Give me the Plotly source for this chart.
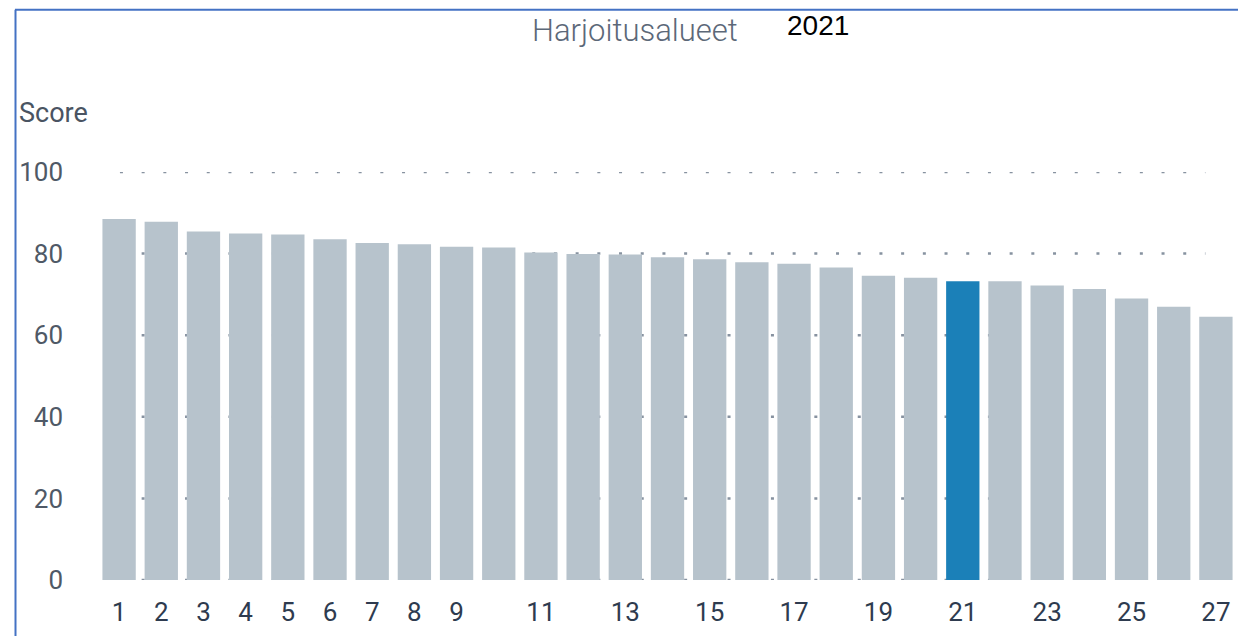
import plotly.graph_objects as go

# ---- data ----
areas = list(range(1, 28))
scores = [88.5, 87.8, 85.4, 84.9, 84.7, 83.5, 82.6, 82.3, 81.7, 81.5,
          80.3, 79.9, 79.8, 79.1, 78.6, 77.9, 77.5, 76.6, 74.6, 74.1,
          73.2, 73.2, 72.2, 71.3, 69.0, 67.0, 64.5]
highlight_area = 21
tick_vals = [1, 2, 3, 4, 5, 6, 7, 8, 9, 11, 13, 15, 17, 19, 21, 23, 25, 27]
tick_text = [str(v) for v in tick_vals]
y_ticks = [0, 20, 40, 60, 80, 100]
title_text = "Harjoitusalueet"
year_text = "2021"
y_label = "Score"

GRAY = "#b7c3cc"
BLUE = "#1b80b8"
colors = [BLUE if a == highlight_area else GRAY for a in areas]

OFF = 8  # page body margin
W, H = 1246 - OFF, 636 - OFF
# plot area in window pixels
WL, WR, WT, WB = 98, 1237, 172, 582
L, R, T, B = WL - OFF, WR - OFF, WT - OFF, WB - OFF


def px(x):  # window pixel -> paper
    return (x - OFF - L) / (R - L)


def py(y):
    return (B - (y - OFF)) / (B - T)


fig = go.Figure()
fig.add_trace(go.Bar(
    x=areas, y=scores, marker=dict(color=colors, line=dict(width=0)),
    hoverinfo="x+y", showlegend=False,
))

# dotted gridlines (drawn below bars)
for v in y_ticks:
    fig.add_shape(type="line", xref="x", yref="y", x0=1.02, x1=26.75, y0=v, y1=v,
                  line=dict(color="#8792a0", width=2.5, dash="3px,18.7px"),
                  layer="below")

# frame lines (top and left)
fig.add_shape(type="line", xref="paper", yref="paper",
              x0=px(15), x1=px(1250), y0=py(9), y1=py(9),
              line=dict(color="#4472c4", width=2))
fig.add_shape(type="line", xref="paper", yref="paper",
              x0=px(15.5), x1=px(15.5), y0=py(9), y1=py(640),
              line=dict(color="#4472c4", width=2))

fig.add_annotation(text=title_text, xref="paper", yref="paper",
                   x=px(635), y=py(30), xanchor="center", yanchor="middle",
                   showarrow=False,
                   font=dict(family="Roboto", size=31, color="#5c6878", weight=300))
fig.add_annotation(text=year_text, xref="paper", yref="paper",
                   x=px(817.5), y=py(24.5), xanchor="center", yanchor="middle",
                   showarrow=False,
                   font=dict(family="Liberation Sans", size=28, color="#000000"))
fig.add_annotation(text=y_label, xref="paper", yref="paper",
                   x=px(17), y=py(113), xanchor="left", yanchor="middle",
                   showarrow=False,
                   font=dict(family="Roboto", size=27, color="#4a5462"))

fig.update_layout(
    width=W, height=H,
    margin=dict(l=L, r=W - R, t=T, b=H - B, pad=0),
    paper_bgcolor="white", plot_bgcolor="white",
    bargap=0.21,
    showlegend=False,
    xaxis=dict(range=[0.5, 27.5], tickvals=tick_vals, ticktext=tick_text,
               showgrid=False, zeroline=False, showline=False, ticks="",
               ticklabelstandoff=14,
               tickfont=dict(family="Roboto", size=26, color="#2e3b4f")),
    yaxis=dict(range=[0, 100], tickvals=y_ticks, showgrid=False,
               zeroline=False, showline=False, ticks="",
               ticklabelstandoff=34,
               tickfont=dict(family="Roboto", size=26, color="#4f5966")),
)

fig.write_html("out.html")
